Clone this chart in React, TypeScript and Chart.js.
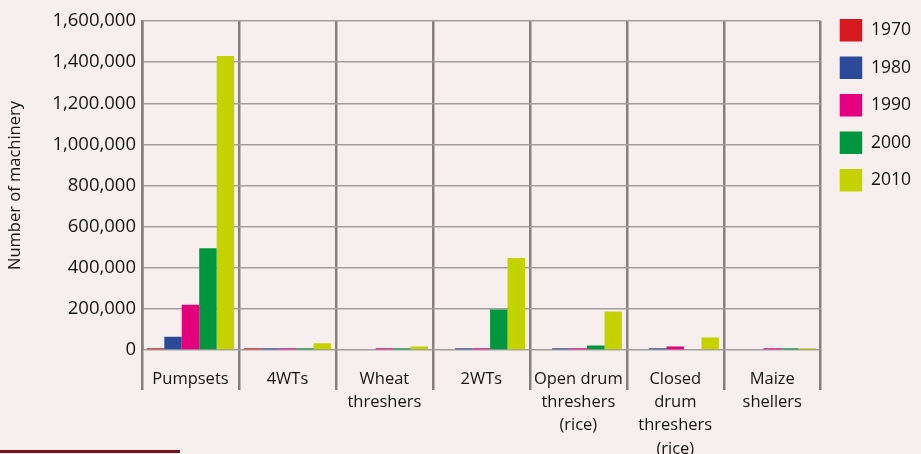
import React, { useEffect, useRef } from "react";
import { Chart, registerables } from "chart.js";

Chart.register(...registerables);

const categories: (string | string[])[] = [
  "Pumpsets",
  "4WTs",
  ["Wheat", "threshers"],
  "2WTs",
  ["Open drum", "threshers", "(rice)"],
  ["Closed", "drum", "threshers", "(rice)"],
  ["Maize", "shellers"],
];

const years = ["1970", "1980", "1990", "2000", "2010"];

const series1970 = [9000, 9000, 0, 0, 0, 0, 0];
const series1980 = [65000, 9000, 0, 9000, 9000, 9000, 0];
const series1990 = [220000, 9000, 9000, 9000, 9000, 17000, 9000];
const series2000 = [495000, 9000, 9000, 197000, 22000, 0, 9000];
const series2010 = [1430000, 33000, 17000, 448000, 187000, 61000, 9000];

const yTickLabels = [
  "0",
  "200,000",
  "400,000",
  "600,000",
  "800,000",
  "1,000,000",
  "1,200.000",
  "1,400,000",
  "1,600,000",
];

const colors = ["#d7181f", "#2c4a9a", "#e4007c", "#00963f", "#c4d300"];

const FONT = "'Open Sans', 'DejaVu Sans', sans-serif";
const TEXT = "#141414";

export default function App() {
  const ref = useRef<HTMLCanvasElement | null>(null);

  useEffect(() => {
    if (!ref.current) return;
    const seriesList = [series1970, series1980, series1990, series2000, series2010];
    const chart = new Chart(ref.current, {
      type: "bar",
      data: {
        labels: categories,
        datasets: years.map((y, i) => ({
          label: y,
          data: seriesList[i],
          backgroundColor: colors[i],
          borderWidth: 0,
          categoryPercentage: 0.9,
          barPercentage: 1.0,
        })),
      },
      options: {
        animation: false,
        responsive: true,
        maintainAspectRatio: false,
        layout: { padding: { left: 0, right: 0, top: 4, bottom: 0 } },
        plugins: {
          tooltip: { enabled: false },
          title: {
            display: true,
            text: "",
            padding: { top: 0, bottom: 0 },
            font: { size: 10, lineHeight: 1.7 },
          },
          legend: {
            position: "right",
            align: "start",
            labels: {
              boxWidth: 22.5,
              boxHeight: 22.5,
              padding: 15,
              color: TEXT,
              font: { family: FONT, size: 17.5 },
            },
          },
        },
        scales: {
          x: {
            type: "category",
            offset: true,
            grid: {
              offset: true,
              color: "#858080",
              lineWidth: 2.5,
              tickLength: 40,
              drawTicks: true,
              drawOnChartArea: true,
            },
            border: { display: false },
            ticks: {
              color: TEXT,
              font: { family: FONT, size: 16.5, lineHeight: 1.4 },
              padding: -22,
              maxRotation: 0,
              minRotation: 0,
              autoSkip: false,
            },
            afterFit: (s: any) => {
              s.height = 104;
            },
          },
          y: {
            type: "linear",
            min: 0,
            max: 1600000,
            grid: { color: "#a39d9d", lineWidth: 1.5, drawTicks: false },
            border: { display: true, color: "#858080", width: 2.5 },
            ticks: {
              stepSize: 200000,
              padding: 6,
              color: TEXT,
              font: { family: FONT, size: 18.5 },
              callback: (_v: any, i: number) => yTickLabels[i],
            },
            title: {
              display: true,
              text: "Number of machinery",
              color: TEXT,
              font: { family: FONT, size: 16.5 },
              padding: { top: 5, bottom: 0 },
            },
            afterFit: (s: any) => {
              s.width = 142;
            },
          },
          yr: {
            type: "linear",
            position: "right",
            display: true,
            grid: { display: false, drawTicks: false },
            border: { display: false },
            ticks: { display: false },
            afterFit: (s: any) => {
              s.width = 4;
            },
          },
        },
      },
    });
    return () => chart.destroy();
  }, []);

  return (
    <div
      style={{
        position: "fixed",
        left: 0,
        top: 0,
        width: 921,
        height: 454,
        background: "#f6efee",
      }}
    >
      <canvas ref={ref} />
      <div
        style={{
          position: "absolute",
          left: 0,
          top: 450,
          width: 180,
          height: 2.5,
          background: "#7b1416",
        }}
      />
    </div>
  );
}
